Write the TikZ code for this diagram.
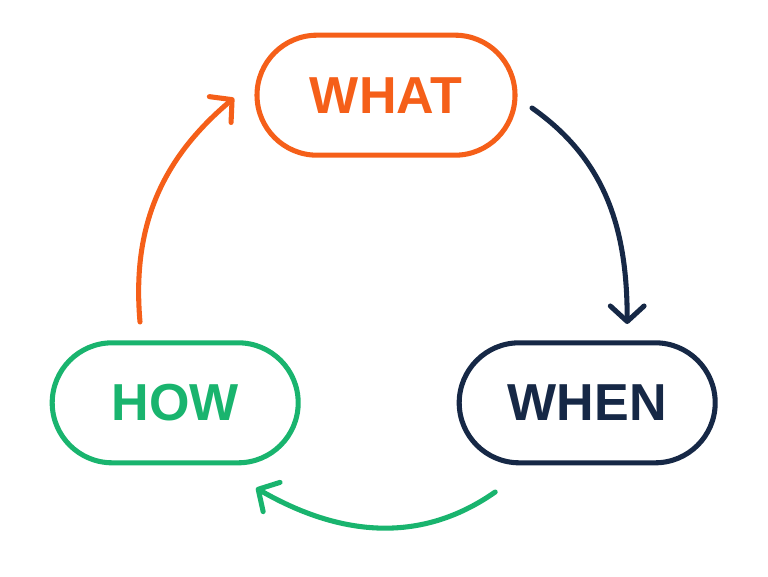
\documentclass[tikz,border=0pt]{standalone}
\usepackage{fontspec}
\setsansfont{Liberation Sans}
\usetikzlibrary{arrows.meta}
\definecolor{whatorange}{RGB}{245,95,25}
\definecolor{whennavy}{RGB}{22,40,70}
\definecolor{howgreen}{RGB}{25,180,110}
\tikzset{
  stage/.style={draw, line width=3.6pt, rounded corners=1.5cm, minimum height=3cm,
    font=\sffamily\bfseries\fontsize{37}{40}\selectfont},
  flow/.style={line width=3.6pt, line cap=round, -{Straight Barb[length=11pt,width=24pt,line width=3.6pt,round]}}
}
\begin{document}
\begin{tikzpicture}
  \useasboundingbox (0,0) rectangle (19.2,14.4);

  \node[stage, whatorange, minimum width=6.45cm] (what) at (9.65,12.02) {WHAT};
  \node[stage, whennavy, minimum width=6.4cm] (when) at (14.68,4.33) {WHEN};
  \node[stage, howgreen, minimum width=6.15cm] (how) at (4.38,4.33) {HOW};

  \coordinate (a1) at (3.5,6.35);
  \coordinate (a2) at (5.85,11.95);
  \coordinate (b1) at (13.3,11.7);
  \coordinate (b2) at (15.68,6.3);
  \coordinate (c1) at (12.38,2.1);
  \coordinate (c2) at (6.4,2.2);

  \draw[flow, whatorange] (a1) to[out=95,in=220] (a2);
  \draw[flow, whennavy] (b1) to[out=-35,in=90] (b2);
  \draw[flow, howgreen] (c1) to[out=-145,in=-30] (c2);
\end{tikzpicture}
\end{document}
